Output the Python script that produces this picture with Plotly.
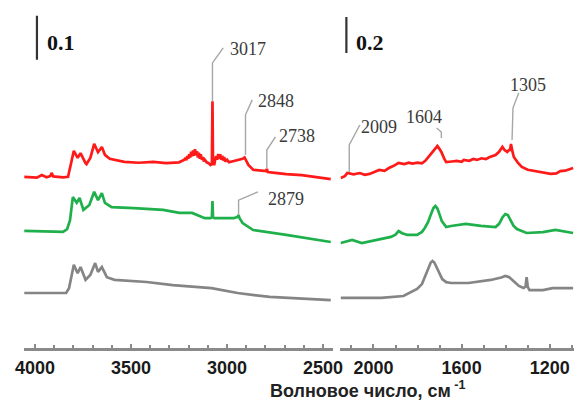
import plotly.graph_objects as go

# ---------------- data (wavenumber, cm-1 ; absorbance offset units) ----------------
# left panel (4000-2500), scale bar 0.1
red_l_wn = [4056, 3990, 3965, 3940, 3920, 3914, 3905, 3880, 3854, 3828, 3818, 3798, 3778, 3763, 3737, 3732,
            3712, 3692, 3672, 3652, 3636, 3611, 3535, 3460, 3384, 3318, 3250, 3232, 3222, 3217, 3212, 3207,
            3202, 3197, 3192, 3187, 3182, 3177, 3172, 3167, 3162, 3157, 3152, 3147, 3142, 3137, 3131, 3126,
            3121, 3116, 3106, 3096, 3086, 3079, 3076, 3073, 3066, 3061, 3056, 3051, 3046, 3041, 3036, 3030,
            3025, 3020, 3015, 3010, 3000, 2990, 2965, 2940, 2919, 2909, 2899, 2889, 2864, 2844, 2810, 2797,
            2793, 2788, 2750, 2692, 2611, 2530, 2460]
red_l_a = [0.389, 0.387, 0.393, 0.388, 0.391, 0.398, 0.390, 0.389, 0.388, 0.389, 0.410, 0.448, 0.432, 0.443,
           0.420, 0.418, 0.432, 0.464, 0.445, 0.457, 0.439, 0.430, 0.423, 0.421, 0.423, 0.420, 0.422, 0.425,
           0.428, 0.432, 0.427, 0.436, 0.430, 0.440, 0.433, 0.446, 0.436, 0.449, 0.437, 0.452, 0.438, 0.447,
           0.433, 0.444, 0.430, 0.440, 0.428, 0.434, 0.424, 0.428, 0.422, 0.420, 0.416, 0.418, 0.561, 0.418,
           0.418, 0.430, 0.436, 0.428, 0.441, 0.430, 0.440, 0.428, 0.437, 0.426, 0.434, 0.424, 0.428, 0.422,
           0.425, 0.427, 0.430, 0.433, 0.425, 0.416, 0.405, 0.404, 0.401, 0.402, 0.407, 0.400, 0.398, 0.395,
           0.393, 0.388, 0.384]

green_l_wn = [4056, 3914, 3854, 3833, 3818, 3803, 3783, 3768, 3748, 3717, 3692, 3672, 3652, 3636, 3601, 3485,
              3333, 3248, 3182, 3116, 3086, 3079, 3076, 3073, 3066, 2965, 2945, 2940, 2935, 2919, 2864, 2692,
              2460]
green_l_a = [0.266, 0.264, 0.264, 0.270, 0.290, 0.343, 0.330, 0.341, 0.314, 0.325, 0.355, 0.336, 0.352, 0.330,
             0.320, 0.318, 0.314, 0.307, 0.307, 0.295, 0.295, 0.297, 0.334, 0.297, 0.295, 0.295, 0.298, 0.302,
             0.295, 0.284, 0.268, 0.257, 0.241]

gray_l_wn = [4056, 3838, 3823, 3798, 3778, 3763, 3737, 3712, 3687, 3672, 3652, 3626, 3586, 3419, 3283, 3232,
             3081, 2945, 2778, 2460]
gray_l_a = [0.125, 0.125, 0.136, 0.189, 0.170, 0.184, 0.155, 0.166, 0.193, 0.173, 0.184, 0.161, 0.155, 0.150,
            0.143, 0.141, 0.136, 0.125, 0.116, 0.109]

# right panel (2150-1090), scale bar 0.2
red_r_wn = [2149, 2130, 2119, 2090, 2062, 2040, 2018, 1996, 1974, 1950, 1930, 1908, 1886, 1860, 1840, 1824,
            1800, 1780, 1765, 1754, 1740, 1725, 1710, 1700, 1692, 1680, 1670, 1645, 1622, 1600, 1590, 1565,
            1547, 1530, 1510, 1490, 1472, 1446, 1430, 1415, 1405, 1393, 1385, 1380, 1376, 1370, 1363, 1345,
            1327, 1300, 1270, 1250, 1230, 1196, 1170, 1152, 1130, 1120, 1094]
red_r_a = [0.944, 0.955, 0.972, 0.965, 0.972, 0.962, 0.967, 0.978, 0.989, 0.984, 1.000, 1.012, 1.028, 1.022,
           1.030, 1.025, 1.030, 1.026, 1.040, 1.056, 1.075, 1.100, 1.122, 1.105, 1.089, 1.055, 1.033, 1.036,
           1.039, 1.034, 1.045, 1.040, 1.050, 1.045, 1.054, 1.050, 1.061, 1.072, 1.090, 1.117, 1.100, 1.089,
           1.100, 1.100, 1.133, 1.095, 1.061, 1.030, 1.006, 0.990, 0.983, 0.978, 0.975, 0.967, 0.970, 0.983,
           0.985, 0.990, 1.000]

green_r_wn = [2149, 2097, 2053, 2000, 1965, 1921, 1900, 1886, 1870, 1846, 1802, 1780, 1767, 1752, 1740, 1728,
              1719, 1710, 1701, 1690, 1670, 1648, 1582, 1512, 1446, 1430, 1415, 1402, 1390, 1380, 1365, 1349,
              1305, 1231, 1174, 1094]
green_r_a = [0.583, 0.600, 0.583, 0.595, 0.606, 0.617, 0.630, 0.650, 0.638, 0.628, 0.628, 0.645, 0.667, 0.700,
             0.740, 0.778, 0.789, 0.775, 0.745, 0.705, 0.672, 0.678, 0.689, 0.678, 0.672, 0.690, 0.725, 0.744,
             0.738, 0.711, 0.680, 0.661, 0.639, 0.644, 0.656, 0.639]

gray_r_wn = [2149, 1965, 1864, 1802, 1780, 1765, 1750, 1740, 1732, 1724, 1714, 1700, 1688, 1670, 1648, 1569,
             1468, 1420, 1402, 1385, 1363, 1340, 1319, 1310, 1305, 1300, 1292, 1231, 1187, 1094]
gray_r_a = [0.278, 0.278, 0.289, 0.328, 0.355, 0.400, 0.450, 0.475, 0.483, 0.475, 0.450, 0.410, 0.383, 0.366,
            0.361, 0.361, 0.378, 0.392, 0.400, 0.394, 0.372, 0.345, 0.333, 0.340, 0.394, 0.340, 0.322, 0.322,
            0.333, 0.333]

left_ticks = [4000, 3500, 3000, 2500]
right_ticks = [2000, 1600, 1200]

# peak labels: text, panel, leader line path (wn, a), text anchor (wn, a)
peaks = [
    ("3017", "l", [3076, 3076, 3020], [0.561, 0.648, 0.682], 2993, 0.680, "left"),
    ("2848", "l", [2904, 2904, 2869], [0.439, 0.530, 0.564], 2847, 0.561, "left"),
    ("2738", "l", [2793, 2793, 2748], [0.409, 0.450, 0.480], 2741, 0.482, "left"),
    ("2879", "l", [2940, 2940, 2839], [0.302, 0.336, 0.355], 2796, 0.339, "left"),
    ("2009", "r", [2110, 2110, 2062], [0.978, 1.128, 1.239], 2066, 1.228, "left"),
    ("1604", "r", [1692, 1692, 1714], [1.167, 1.200, 1.222], 1772, 1.283, "center"),
    ("1305", "r", [1371, 1367, 1341], [1.156, 1.333, 1.417], 1297, 1.461, "center"),
]

RED = "#ff1a1a"
GREEN = "#1fb04c"
GRAY = "#858585"
LW = 2.7

fig = go.Figure()
for wn, a, c in [(red_l_wn, red_l_a, RED), (green_l_wn, green_l_a, GREEN), (gray_l_wn, gray_l_a, GRAY)]:
    fig.add_trace(go.Scatter(x=wn, y=a, mode="lines", line=dict(color=c, width=LW), xaxis="x", yaxis="y",
                             showlegend=False, hoverinfo="skip"))
for wn, a, c in [(red_r_wn, red_r_a, RED), (green_r_wn, green_r_a, GREEN), (gray_r_wn, gray_r_a, GRAY)]:
    fig.add_trace(go.Scatter(x=wn, y=a, mode="lines", line=dict(color=c, width=LW), xaxis="x2", yaxis="y2",
                             showlegend=False, hoverinfo="skip"))

annotations = []
for txt, panel, lx, ly, tx, ty, anc in peaks:
    xa, ya = ("x", "y") if panel == "l" else ("x2", "y2")
    fig.add_trace(go.Scatter(x=lx, y=ly, mode="lines", line=dict(color="#a6a6a6", width=1.4), xaxis=xa, yaxis=ya,
                             showlegend=False, hoverinfo="skip"))
    annotations.append(dict(x=tx, y=ty, xref=xa, yref=ya, text=txt, showarrow=False, xanchor=anc,
                            yanchor="middle", font=dict(family="Liberation Serif", size=18, color="#3a3a3a")))

# scale bars
fig.add_trace(go.Scatter(x=[3990, 3990], y=[0.655, 0.755], mode="lines", line=dict(color="#333333", width=2.2),
                         xaxis="x", yaxis="y", showlegend=False, hoverinfo="skip"))
fig.add_trace(go.Scatter(x=[2123, 2123], y=[1.639, 1.839], mode="lines", line=dict(color="#333333", width=2.2),
                         xaxis="x2", yaxis="y2", showlegend=False, hoverinfo="skip"))
annotations.append(dict(x=3950, y=0.695, xref="x", yref="y", text="<b>0.1</b>", showarrow=False, xanchor="left",
                        yanchor="middle", font=dict(family="Liberation Serif", size=22, color="#111111")))
annotations.append(dict(x=2090, y=1.700, xref="x2", yref="y2", text="<b>0.2</b>", showarrow=False, xanchor="left",
                        yanchor="middle", font=dict(family="Liberation Serif", size=22, color="#111111")))

annotations.append(dict(x=371 / 584, y=1 - 389 / 401, xref="paper", yref="paper",
                        text="<b>Волновое число, см<sup> -1</sup></b>", showarrow=False, xanchor="center",
                        yanchor="middle", font=dict(family="Liberation Sans", size=18, color="#222222")))

axis_common = dict(showgrid=False, zeroline=False, showline=True, linecolor="#8a8a8a", linewidth=3,
                   ticks="inside", ticklen=4, tickwidth=1.5, tickcolor="#8a8a8a", ticklabelstandoff=1,
                   tickfont=dict(family="Liberation Sans", size=18, color="#1a1a1a"))

fig.update_layout(
    width=584, height=401, margin=dict(l=0, r=0, t=0, b=0),
    paper_bgcolor="white", plot_bgcolor="white",
    xaxis=dict(domain=[16 / 584, 335 / 584], range=[4060, 2450], tickvals=left_ticks,
               ticktext=[f"<b>{t}</b>" for t in left_ticks], anchor="y",
               minor=dict(dtick=100, ticks="inside", ticklen=3, tickcolor="#8a8a8a", tick0=0), **axis_common),
    xaxis2=dict(domain=[343 / 584, 1.0], range=[2150, 1090], tickvals=right_ticks,
                ticktext=[f"<b>{t}</b>" for t in right_ticks], anchor="y2",
                minor=dict(dtick=100, ticks="inside", ticklen=3, tickcolor="#8a8a8a", tick0=0), **axis_common),
    yaxis=dict(domain=[53 / 401, 1.0], range=[0, 348 / 440], visible=False, anchor="x"),
    yaxis2=dict(domain=[53 / 401, 1.0], range=[0, 348 / 180], visible=False, anchor="x2"),
    annotations=annotations,
)

fig.write_html("out.html")
